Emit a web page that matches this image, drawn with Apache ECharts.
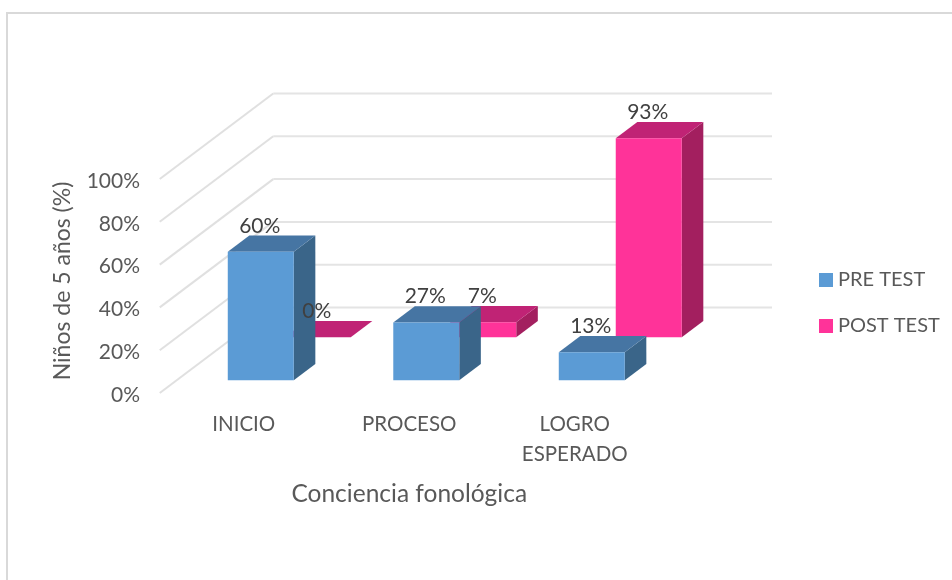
<!DOCTYPE html>
<html>
<head>
<meta charset="utf-8">
<style>
html, body { margin: 0; padding: 0; background: #fff; }
#chart { width: 952px; height: 580px; }
</style>
<script src="https://cdn.jsdelivr.net/npm/echarts@6/dist/echarts.min.js"></script>
</head>
<body>
<div id="chart"></div>
<script>
var categories = ['INICIO', 'PROCESO', 'LOGRO\nESPERADO'];
var preTest = [60, 27, 13];
var postTest = [0, 7, 93];
var yTicks = [0, 20, 40, 60, 80, 100];

// oblique projection of the floor: one unit of depth moves this many px
var depthX = 113.5;
var depthY = -85.5;
var backEnd = 772;   // right end of the back wall lines
var barWidth = 66;
var barDepth = 0.19;
var preDepth = 0.15;
var postDepth = 0.652;

var font = 'Lato, "Open Sans", sans-serif';

var shift = function (p, d) {
    return [p[0] + depthX * d, p[1] + depthY * d];
};

var poly = function (points, color) {
    return { type: 'polygon', shape: { points: points }, style: { fill: color } };
};

var barRender = function (depth, front, top, side) {
    return function (params, api) {
        var i = api.value(0);
        var base = shift(api.coord([i, 0]), depth);
        var head = shift(api.coord([i, api.value(1)]), depth);
        var l = base[0] - barWidth / 2;
        var r = base[0] + barWidth / 2;
        var dx = depthX * barDepth;
        var dy = depthY * barDepth;
        return {
            type: 'group',
            children: [
                poly([[r, base[1]], [r + dx, base[1] + dy], [r + dx, head[1] + dy], [r, head[1]]], side),
                poly([[l, head[1]], [l + dx, head[1] + dy], [r + dx, head[1] + dy], [r, head[1]]], top),
                poly([[l, base[1]], [r, base[1]], [r, head[1]], [l, head[1]]], front)
            ]
        };
    };
};

var labelRender = function (depth) {
    return function (params, api) {
        var p = shift(api.coord([api.value(0), api.value(1)]), depth);
        return {
            type: 'text',
            style: {
                x: p[0] - 1, y: p[1] - 26,
                text: api.value(1) + '%',
                font: '21px ' + font,
                fill: '#404040',
                align: 'center',
                verticalAlign: 'middle'
            }
        };
    };
};

var wallRender = function (params, api) {
    var p = api.coord([0, api.value(0)]);
    var front = [api.coord([0, 0])[0] - 84, p[1]];
    var back = shift(front, 1);
    return {
        type: 'group',
        children: [
            { type: 'line', shape: { x1: front[0], y1: front[1], x2: back[0], y2: back[1] },
              style: { stroke: '#e0e0e0', lineWidth: 2 } },
            { type: 'line', shape: { x1: back[0], y1: back[1], x2: backEnd, y2: back[1] },
              style: { stroke: '#e4e4e4', lineWidth: 2 } }
        ]
    };
};

var pairs = function (values) {
    var out = [];
    for (var i = 0; i < values.length; i++) {
        out.push([i, values[i]]);
    }
    return out;
};

var chart = echarts.init(document.getElementById('chart'));
var option = {
    animation: false,
    backgroundColor: '#fff',
    textStyle: { fontFamily: font },
    graphic: [{
        // the frame is cut off by the image on the right and at the bottom
        type: 'polyline',
        shape: { points: [[7, 580], [7, 13], [952, 13]] },
        style: { fill: 'none', stroke: '#d9d9d9', lineWidth: 2 },
        z: -1
    }],
    grid: { left: 161, top: 179, width: 496.5, height: 214 },
    legend: {
        data: ['PRE TEST', 'POST TEST'],
        orient: 'vertical',
        left: 814,
        top: 265,
        itemWidth: 14,
        itemHeight: 14,
        itemGap: 26,
        icon: 'rect',
        textStyle: { fontSize: 20, color: '#595959', fontFamily: font }
    },
    xAxis: {
        type: 'category',
        data: categories,
        name: 'Conciencia fonológica',
        nameLocation: 'middle',
        nameGap: 89,
        nameTextStyle: { fontSize: 24.5, color: '#595959', fontFamily: font },
        axisLine: { show: false },
        axisTick: { show: false },
        axisLabel: { fontSize: 20.5, color: '#595959', margin: 16, lineHeight: 30, interval: 0 }
    },
    yAxis: {
        type: 'value',
        min: 0,
        max: 100,
        interval: 20,
        name: 'Niños de 5 años (%)',
        nameLocation: 'middle',
        nameGap: 87,
        nameTextStyle: { fontSize: 23, color: '#595959', fontFamily: font, padding: [0, 0, 0, 10] },
        axisLine: { show: false },
        axisTick: { show: false },
        splitLine: { show: false },
        axisLabel: {
            color: '#595959',
            margin: 21,
            formatter: '{t|{value}%}',
            rich: { t: { fontSize: 21, color: '#595959', fontFamily: font, padding: [4, 0, 0, 0] } }
        }
    },
    series: [
        {
            name: 'walls',
            type: 'custom',
            renderItem: wallRender,
            clip: false,
            silent: true,
            data: yTicks.map(function (t) { return [t]; }),
            encode: { y: 0 },
            z: 1
        },
        {
            name: 'POST TEST',
            type: 'custom',
            renderItem: barRender(postDepth, '#ff3399', '#c02375', '#a31f5f'),
            clip: false,
            itemStyle: { color: '#ff3399' },
            data: pairs(postTest),
            encode: { x: 0, y: 1 },
            z: 2
        },
        {
            name: 'PRE TEST',
            type: 'custom',
            renderItem: barRender(preDepth, '#5b9bd5', '#4675a3', '#3a6589'),
            clip: false,
            itemStyle: { color: '#5b9bd5' },
            data: pairs(preTest),
            encode: { x: 0, y: 1 },
            z: 3
        },
        {
            name: 'post labels',
            type: 'custom',
            renderItem: labelRender(postDepth),
            clip: false,
            silent: true,
            data: pairs(postTest),
            encode: { x: 0, y: 1 },
            z: 4
        },
        {
            name: 'pre labels',
            type: 'custom',
            renderItem: labelRender(preDepth),
            clip: false,
            silent: true,
            data: pairs(preTest),
            encode: { x: 0, y: 1 },
            z: 4
        }
    ]
};
chart.setOption(option);
</script>
</body>
</html>
